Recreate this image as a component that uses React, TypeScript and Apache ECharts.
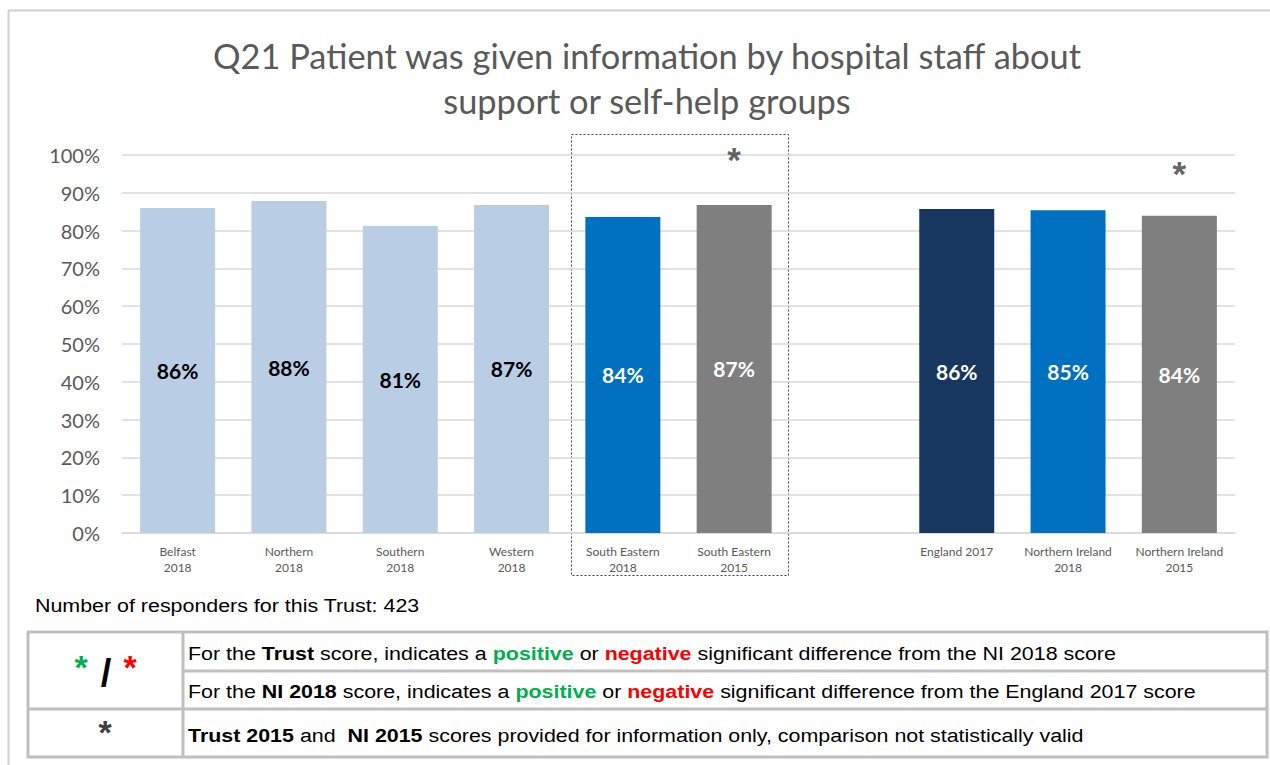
import React, { useEffect, useRef } from "react";
import * as echarts from "echarts";

const categories = [
  "Belfast\n2018",
  "Northern\n2018",
  "Southern\n2018",
  "Western\n2018",
  "South Eastern\n2018",
  "South Eastern\n2015",
  "",
  "England 2017",
  "Northern Ireland\n2018",
  "Northern Ireland\n2015",
];
const scores: (number | null)[] = [86, 87.8, 81.2, 86.8, 83.6, 86.8, null, 85.7, 85.4, 83.9];
const barColors = ["#b9cde5", "#b9cde5", "#b9cde5", "#b9cde5", "#0070c0", "#7f7f7f", "#ffffff", "#17375e", "#0070c0", "#7f7f7f"];
const labelColors = ["#000", "#000", "#000", "#000", "#fff", "#fff", "#fff", "#fff", "#fff", "#fff"];
// asterisk markers (information-only comparison)
const asteriskMarks: (number | string)[] = ["-", "-", "-", "-", "-", 98.7, "-", "-", "-", 95.2];

const titleLines = ["Q21 Patient was given information by hospital staff about", "support or self-help groups"];
const responders = 423;

export default function App() {
  const ref = useRef<HTMLDivElement>(null);
  useEffect(() => {
    document.body.style.margin = "0";
    const chart = echarts.init(ref.current!, null, { renderer: "svg" });
    const FONT = "Lato, 'Noto Sans', sans-serif";
    const ARIAL = "'Liberation Sans', Arial, sans-serif";
    const tblStroke = "#bfbfbf";
    const sx = 1.19;
    const fs = 18;
    const rich = {
      n: { fontFamily: ARIAL, fontSize: fs, fill: "#000" },
      b: { fontFamily: ARIAL, fontSize: fs, fill: "#000", fontWeight: "bold" },
      g: { fontFamily: ARIAL, fontSize: fs, fill: "#00b050", fontWeight: "bold" },
      r: { fontFamily: ARIAL, fontSize: fs, fill: "#ff0000", fontWeight: "bold" },
    };
    chart.setOption({
      animation: false,
      grid: { left: 122, right: 35, top: 155, bottom: 232, containLabel: false },
      xAxis: {
        type: "category",
        data: categories,
        axisTick: { show: false },
        axisLine: { lineStyle: { color: "#d9d9d9", width: 1.5 } },
        axisLabel: { fontFamily: FONT, fontSize: 12, color: "#595959", lineHeight: 16, margin: 10, interval: 0 },
      },
      yAxis: {
        type: "value",
        min: 0,
        max: 100,
        interval: 10,
        axisLabel: { formatter: "{value}%", fontFamily: FONT, fontSize: 20, color: "#595959", margin: 22 },
        splitLine: { lineStyle: { color: "#d9d9d9", width: 1.5 } },
        axisLine: { show: false },
        axisTick: { show: false },
      },
      series: [
        {
          type: "bar",
          barWidth: 75,
          data: scores.map((v, i) =>
            v === null
              ? "-"
              : { value: v, itemStyle: { color: barColors[i] }, label: { color: labelColors[i] } }
          ),
          label: {
            show: true,
            position: "inside",
            formatter: (p: any) => Math.round(p.value) + "%",
            fontFamily: FONT,
            fontSize: 21,
            fontWeight: "bold",
          },
        },
        {
          type: "scatter",
          data: asteriskMarks,
          symbolSize: 1,
          itemStyle: { color: "rgba(0,0,0,0)" },
          label: {
            show: true,
            position: "inside",
            formatter: "*",
            fontFamily: ARIAL,
            fontSize: 35,
            fontWeight: "bold",
            color: "#3a3a3a",
          },
        },
      ],
      graphic: [
        { type: "line", shape: { x1: 8, y1: 10.5, x2: 1270, y2: 10.5 }, style: { stroke: "#d0d0d0", lineWidth: 2 } },
        { type: "line", shape: { x1: 8.5, y1: 10, x2: 8.5, y2: 765 }, style: { stroke: "#d0d0d0", lineWidth: 2 } },
        {
          type: "rect",
          shape: { x: 571.5, y: 134.5, width: 217, height: 441 },
          style: { fill: "none", stroke: "#404040", lineWidth: 1, lineDash: [2, 2] },
        },
        {
          type: "text",
          x: 647,
          y: 55,
          style: { text: titleLines[0], fontFamily: FONT, fontSize: 34.4, fill: "#595959", align: "center", verticalAlign: "middle" },
        },
        {
          type: "text",
          x: 647,
          y: 100,
          style: { text: titleLines[1], fontFamily: FONT, fontSize: 34.4, fill: "#595959", align: "center", verticalAlign: "middle" },
        },
        {
          type: "text",
          x: 35,
          y: 606,
          scaleX: sx,
          style: { text: "Number of responders for this Trust: " + responders, fontFamily: ARIAL, fontSize: fs, fill: "#000", verticalAlign: "middle" },
        },
        // table
        { type: "rect", shape: { x: 28, y: 632, width: 1239, height: 125 }, style: { fill: "#fff", stroke: tblStroke, lineWidth: 3 } },
        { type: "line", shape: { x1: 183, y1: 632, x2: 183, y2: 757 }, style: { stroke: tblStroke, lineWidth: 3 } },
        { type: "line", shape: { x1: 183, y1: 671, x2: 1267, y2: 671 }, style: { stroke: tblStroke, lineWidth: 3 } },
        { type: "line", shape: { x1: 28, y1: 709, x2: 1267, y2: 709 }, style: { stroke: tblStroke, lineWidth: 3 } },
        {
          type: "text",
          x: 81,
          y: 667,
          style: { text: "*", fontFamily: ARIAL, fontSize: 34, fontWeight: "bold", fill: "#00b050", align: "center", verticalAlign: "middle" },
        },
        {
          type: "text",
          x: 106,
          y: 673,
          style: { text: "/", fontFamily: ARIAL, fontSize: 38, fontWeight: "bold", fill: "#000", align: "center", verticalAlign: "middle" },
        },
        {
          type: "text",
          x: 130,
          y: 667,
          style: { text: "*", fontFamily: ARIAL, fontSize: 34, fontWeight: "bold", fill: "#ff0000", align: "center", verticalAlign: "middle" },
        },
        {
          type: "text",
          x: 105,
          y: 732,
          style: { text: "*", fontFamily: ARIAL, fontSize: 34, fontWeight: "bold", fill: "#404040", align: "center", verticalAlign: "middle" },
        },
        {
          type: "text",
          x: 188,
          y: 654,
          scaleX: sx,
          style: {
            text: "{n|For the }{b|Trust}{n| score, indicates a }{g|positive}{n| or }{r|negative}{n| significant difference from the NI 2018 score}",
            verticalAlign: "middle",
            rich,
          },
        },
        {
          type: "text",
          x: 188,
          y: 692,
          scaleX: sx,
          style: {
            text: "{n|For the }{b|NI 2018}{n| score, indicates a }{g|positive}{n| or }{r|negative}{n| significant difference from the England 2017 score}",
            verticalAlign: "middle",
            rich,
          },
        },
        {
          type: "text",
          x: 188,
          y: 736,
          scaleX: sx,
          style: {
            text: "{b|Trust 2015}{n| and  }{b|NI 2015}{n| scores provided for information only, comparison not statistically valid}",
            verticalAlign: "middle",
            rich,
          },
        },
      ],
    });
    return () => chart.dispose();
  }, []);
  return <div ref={ref} style={{ width: 1270, height: 765 }} />;
}
